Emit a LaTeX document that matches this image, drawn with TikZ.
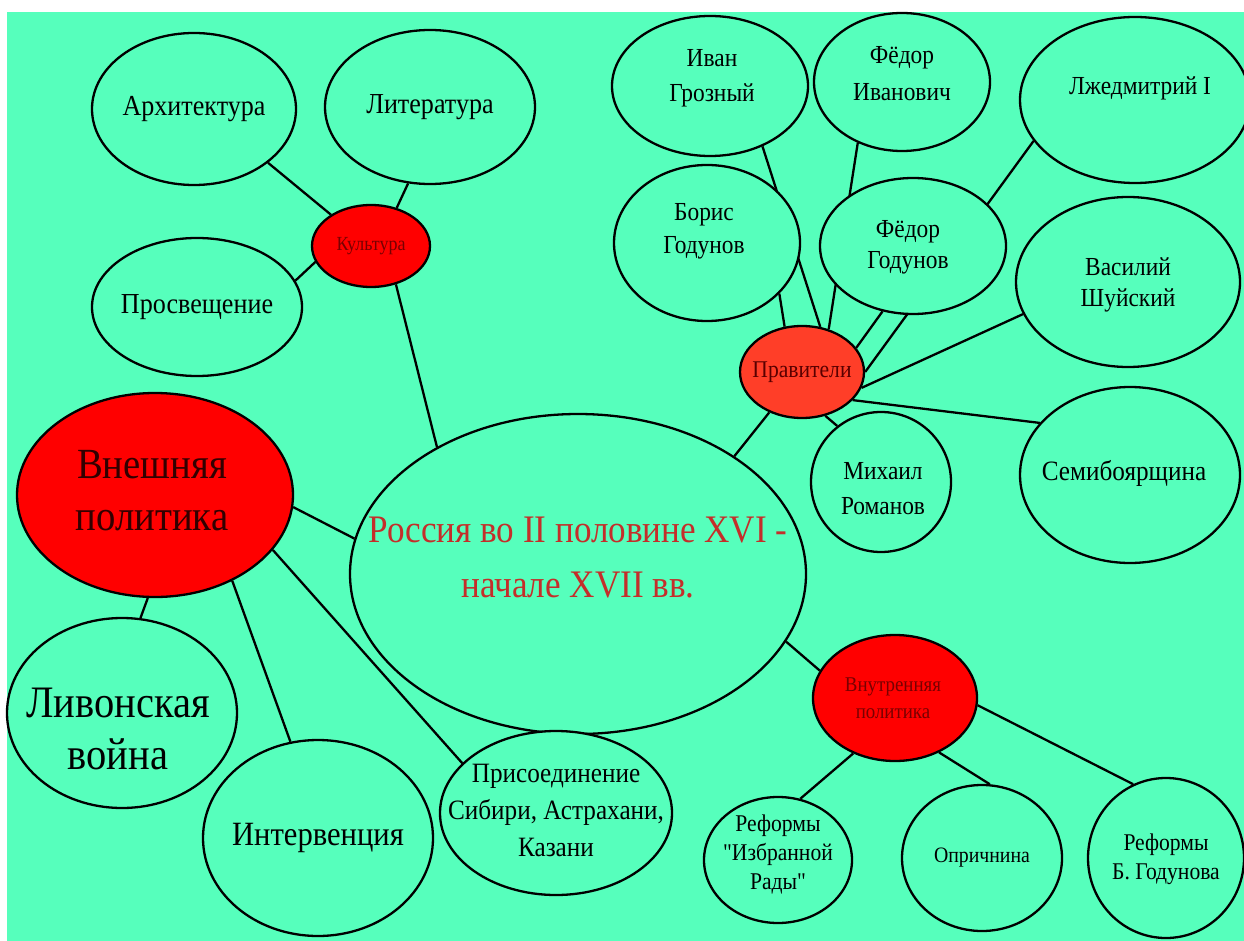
\documentclass[tikz,border=0pt]{standalone}
\usepackage{fontspec}
\setmainfont{Liberation Serif}[FakeStretch=0.9, Ligatures=TeXOff]
\usetikzlibrary{shapes.geometric,backgrounds}
\definecolor{bgc}{RGB}{86,255,188}
\definecolor{redc}{RGB}{255,0,0}
\definecolor{orc}{RGB}{255,62,40}
\definecolor{titlec}{RGB}{196,46,42}
\definecolor{dredtxt}{RGB}{120,0,0}
\newcommand{\fsz}[2]{\fontsize{#1pt}{#2pt}\selectfont}
\tikzset{
  bub/.style={ellipse, draw=black, line width=2.3pt, fill=bgc, inner sep=0pt},
  redbub/.style={bub, fill=redc},
  orbub/.style={bub, fill=orc},
  txt/.style={align=center, inner sep=0pt, text=black},
  conn/.style={line width=2.3pt, draw=black},
}
\begin{document}
\begin{tikzpicture}[x=1pt,y=-1pt]
\useasboundingbox (0,0) rectangle (1244,941);
\begin{scope}[on background layer]
\fill[white] (0,0) rectangle (1244,941);
\fill[bgc] (7,12) rectangle (1244,941);
\end{scope}
% culture cluster
\node[bub, minimum width=204pt, minimum height=152pt] (arch) at (194,109) {};
\node[txt, font=\fsz{29}{34}] (archt) at (arch) {Архитектура};
\node[bub, minimum width=210pt, minimum height=154pt] (lit) at (430,107) {};
\node[txt, font=\fsz{29}{34}] (litt) at (lit) {Литература};
\node[bub, minimum width=210pt, minimum height=138pt] (pros) at (197,307) {};
\node[txt, font=\fsz{29}{34}] (prost) at (pros) {Просвещение};
\node[redbub, minimum width=118pt, minimum height=82pt] (kult) at (371,246) {};
\node[txt, font=\fsz{20}{24}, text=dredtxt] (kultt) at (kult) {Культура};
% main
\node[bub, minimum width=456pt, minimum height=320pt] (main) at (578,574) {};
\node[txt, font=\fsz{39}{55}, text=titlec] (maint) at (578,558) {Россия во II половине XVI -\\начале XVII вв.};
% foreign policy
\node[redbub, minimum width=276pt, minimum height=204pt] (vn) at (155,495) {};
\node[txt, font=\fsz{43}{52}, text={rgb,255:red,50;green,0;blue,0}] (vnt) at (152,491) {Внешняя\\политика};
\node[bub, minimum width=230pt, minimum height=190pt] (liv) at (122,713) {};
\node[txt, font=\fsz{45}{52}] (livt) at (118,729) {Ливонская\\война};
\node[bub, minimum width=230pt, minimum height=196pt] (int) at (318,838) {};
\node[txt, font=\fsz{34}{40}] (intt) at (int) {Интервенция};
\node[bub, minimum width=232pt, minimum height=164pt] (pris) at (556,813) {};
\node[txt, font=\fsz{28}{37}] (prist) at (556,810) {Присоединение\\Сибири, Астрахани,\\Казани};
% internal policy
\node[redbub, minimum width=164pt, minimum height=126pt] (vnut) at (895,698) {};
\node[txt, font=\fsz{21}{27}, text=dredtxt] (vnutt) at (893,698) {Внутренняя\\политика};
\node[bub, minimum width=148pt, minimum height=126pt] (rir) at (778,860) {};
\node[txt, font=\fsz{24}{29}] (rirt) at (778,854) {Реформы\\"Избранной\\Рады"};
\node[bub, minimum width=160pt, minimum height=146pt] (opr) at (982,858) {};
\node[txt, font=\fsz{22}{26}] (oprt) at (opr) {Опричнина};
\node[bub, minimum width=156pt, minimum height=160pt] (rbg) at (1166,858) {};
\node[txt, font=\fsz{24}{29}] (rbgt) at (1166,859) {Реформы\\Б. Годунова};
% rulers
\node[bub, minimum width=196pt, minimum height=140pt] (ig) at (710,86) {};
\node[txt, font=\fsz{26}{35}] (igt) at (712,78) {Иван\\Грозный};
\node[bub, minimum width=176pt, minimum height=138pt] (fi) at (902,82) {};
\node[txt, font=\fsz{26}{37}] (fit) at (902,74) {Фёдор\\Иванович};
\node[bub, minimum width=230pt, minimum height=166pt] (ld) at (1135,100) {};
\node[txt, font=\fsz{26}{30}] (ldt) at (1140,88) {Лжедмитрий I};
\node[bub, minimum width=186pt, minimum height=156pt] (bg) at (707,243) {};
\node[txt, font=\fsz{26}{33}] (bgt) at (704,231) {Борис\\Годунов};
\node[bub, minimum width=186pt, minimum height=136pt] (fg) at (913,246) {};
\node[txt, font=\fsz{26}{31}] (fgt) at (908,247) {Фёдор\\Годунов};
\node[bub, minimum width=224pt, minimum height=170pt] (vs) at (1128,282) {};
\node[txt, font=\fsz{26}{31}] (vst) at (1128,285) {Василий\\Шуйский};
\node[bub, minimum width=140pt, minimum height=140pt] (mr) at (881,482) {};
\node[txt, font=\fsz{26}{35}] (mrt) at (883,489) {Михаил\\Романов};
\node[bub, minimum width=220pt, minimum height=176pt] (sb) at (1130,475) {};
\node[txt, font=\fsz{28}{32}] (sbt) at (1124,473) {Семибоярщина};
\node[orbub, minimum width=124pt, minimum height=92pt] (pr) at (802,372) {};
\node[txt, font=\fsz{24}{28}, text={rgb,255:red,90;green,0;blue,0}] (prt) at (pr) {Правители};
% connectors
\begin{scope}[on background layer]
\draw[conn] (arch.-36) -- (kult.142);
\draw[conn] (lit.-106) -- (kult.56);
\draw[conn] (pros.15) -- (kult.196);
\draw[conn] (kult.-57) -- (main.138);
\draw[conn] (main.171) -- (vn.-5);
\draw[conn] (vn.-94) -- (liv.79);
\draw[conn] (vn.-48) -- (int.106);
\draw[conn] (vn.-25) -- (pris.152);
\draw[conn] (main.-18) -- (vnut.160);
\draw[conn] (vnut.233) -- (rir.70);
\draw[conn] (vnut.-51) -- (opr.84);
\draw[conn] (vnut.-5) -- (rbg.114);
\draw[conn] (main.37) -- (pr.231);
\draw[conn] (bg.-35) -- (pr.111);
\draw[conn] (ig.-49) -- (pr.68);
\draw[conn] (fi.-126) -- (pr.58);
\draw[conn] (fg.-115) -- (pr.24);
\draw[conn] (ld.202) -- (pr.0);
\draw[conn] (vs.197) -- (pr.-15);
\draw[conn] (pr.-62) -- (mr.128);
\draw[conn] (pr.-29) -- (sb.150);
\end{scope}
\end{tikzpicture}
\end{document}
